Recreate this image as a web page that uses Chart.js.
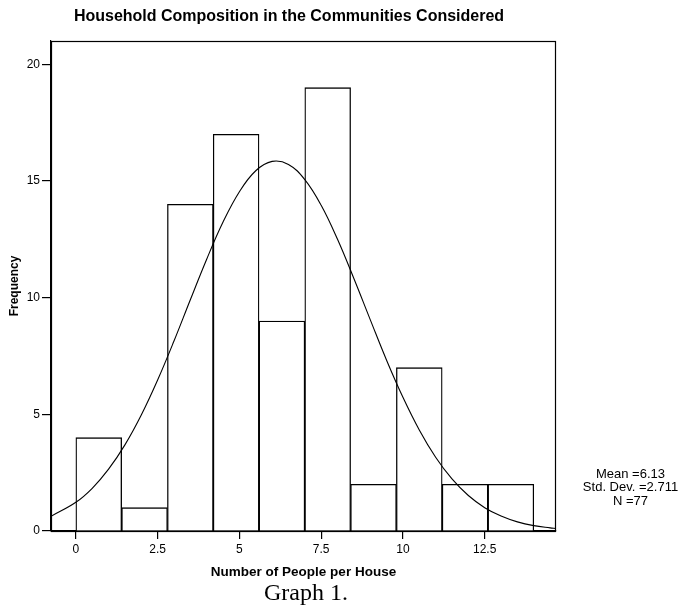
<!DOCTYPE html>
<html>
<head>
<meta charset="utf-8">
<script src="https://cdn.jsdelivr.net/npm/chart.js@4.4.1/dist/chart.umd.min.js"></script>
<style>
body{margin:0;background:#fff;}
</style>
</head>
<body>
<canvas id="myChart" width="683" height="607"></canvas>
<script>
// histogram bins (width 1.4) and counts
var binCenters = [0.7, 2.1, 3.5, 4.9, 6.3, 7.7, 9.1, 10.5, 11.9, 13.3];
var binCounts = [4, 1, 14, 17, 9, 19, 2, 7, 2, 2];

// normal curve
var curveX = [-0.76, 0, 0.5, 1, 1.5, 2, 2.5, 3, 3.5, 4, 4.5, 5, 5.5, 6, 6.5, 7, 7.5, 8, 8.5, 9, 9.5, 10, 10.5, 11, 11.5, 12, 12.5, 13, 13.5, 14, 14.5, 14.68];
var curveY = [0.63, 1.23, 1.83, 2.65, 3.69, 4.97, 6.47, 8.14, 9.91, 11.65, 13.24, 14.54, 15.44, 15.84, 15.71, 15.06, 13.96, 12.50, 10.82, 9.06, 7.32, 5.73, 4.33, 3.16, 2.23, 1.52, 1.00, 0.64, 0.39, 0.23, 0.135, 0.11];

var xTicks = [0, 2.5, 5, 7.5, 10, 12.5];
var yTicks = [0, 5, 10, 15, 20];

var titleText = 'Household Composition in the Communities Considered';
var statsText = ['Mean =6.13', 'Std. Dev. =2.711', 'N =77'];
var captionText = 'Graph 1.';

Chart.defaults.font.family = "'Liberation Sans', Arial, sans-serif";
Chart.defaults.color = '#000';

var barData = [];
for (var i = 0; i < binCenters.length; i++) {
  barData.push({x: binCenters[i], y: binCounts[i]});
}
var lineData = [];
for (var i = 0; i < curveX.length; i++) {
  lineData.push({x: curveX[i], y: curveY[i]});
}

// frame, title, stats box and caption
var extras = {
  id: 'extras',
  afterDraw: function (chart) {
    var ctx = chart.ctx;
    var a = chart.chartArea;
    ctx.save();
    ctx.strokeStyle = '#000';
    ctx.lineWidth = 1.2;
    ctx.strokeRect(Math.round(a.left) + 0.5, Math.round(a.top) + 0.5, Math.round(a.right - a.left) - 1, Math.round(a.bottom - a.top));

    ctx.fillStyle = '#000';
    ctx.textAlign = 'center';
    ctx.textBaseline = 'middle';
    ctx.font = "bold 16px 'Liberation Sans', Arial, sans-serif";
    ctx.fillText(titleText, 289, 17);

    ctx.font = "13px 'Liberation Sans', Arial, sans-serif";
    for (var i = 0; i < statsText.length; i++) {
      ctx.fillText(statsText[i], 630.5, 474 + i * 13.5);
    }

    ctx.font = "24px 'Liberation Serif', 'Times New Roman', serif";
    ctx.fillText(captionText, 306, 594);
    ctx.restore();
  }
};

new Chart('myChart', {
  type: 'bar',
  data: {
    datasets: [{
      type: 'line',
      data: lineData,
      borderColor: '#000',
      borderWidth: 1.1,
      pointRadius: 0,
      tension: 0.4,
      fill: false,
      order: 0
    }, {
      type: 'bar',
      data: barData,
      backgroundColor: '#fff',
      borderColor: '#000',
      borderWidth: 1.3,
      barPercentage: 1,
      categoryPercentage: 1,
      order: 1
    }]
  },
  options: {
    responsive: false,
    animation: false,
    layout: {padding: {left: 0, right: 127, top: 41, bottom: 0}},
    plugins: {
      legend: {display: false},
      tooltip: {enabled: false}
    },
    scales: {
      x: {
        type: 'linear',
        min: -0.76,
        max: 14.68,
        offset: false,
        grid: {offset: false, drawOnChartArea: false, drawTicks: true, tickLength: 8, color: '#000', lineWidth: 1.2},
        border: {color: '#000', width: 1.2},
        ticks: {
          padding: 3,
          font: {size: 12},
          callback: function (v) { return String(v); }
        },
        afterBuildTicks: function (scale) {
          scale.ticks = xTicks.map(function (v) { return {value: v}; });
        },
        afterFit: function (scale) { scale.height = 76; },
        title: {
          display: true,
          text: 'Number of People per House',
          font: {size: 13.5, weight: 'bold'},
          padding: {top: 0, bottom: 27}
        }
      },
      y: {
        min: 0,
        max: 21,
        grid: {drawOnChartArea: false, drawTicks: true, tickLength: 9, color: '#000', lineWidth: 1.2},
        border: {color: '#000', width: 1.2},
        ticks: {padding: 2, font: {size: 12}},
        afterBuildTicks: function (scale) {
          scale.ticks = yTicks.map(function (v) { return {value: v}; });
        },
        afterFit: function (scale) { scale.width = 51; },
        title: {
          display: true,
          text: 'Frequency',
          font: {size: 12, weight: 'bold'},
          padding: {top: 7, bottom: 0}
        }
      }
    }
  },
  plugins: [extras]
});
</script>
</body>
</html>
